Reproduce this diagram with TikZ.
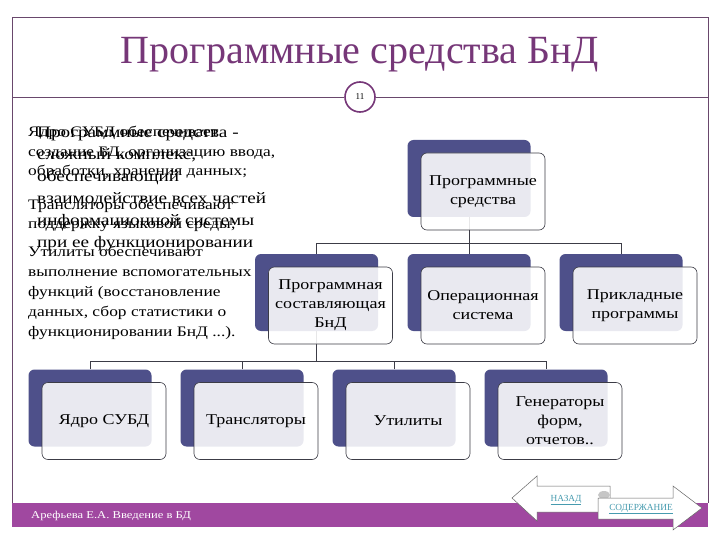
\documentclass[tikz,border=0pt]{standalone}
\usepackage{fontspec}
\setmainfont{Liberation Serif}
\newfontfamily\slidefont[FakeStretch=1.2]{Liberation Serif}
\usetikzlibrary{positioning,calc}
\definecolor{titlepurple}{RGB}{118,55,120}
\definecolor{framepurple}{RGB}{105,72,108}
\definecolor{footpurple}{RGB}{160,72,160}
\definecolor{boxdark}{RGB}{78,80,138}
\definecolor{boxline}{RGB}{60,60,70}
\definecolor{linkteal}{RGB}{70,155,175}

\tikzset{
  backbox/.style={fill=boxdark, rounded corners=6pt, minimum width=123pt,
    minimum height=77pt, inner sep=0pt},
  frontbox/.style={draw=boxline, line width=0.6pt, fill=white, fill opacity=0.88,
    text opacity=1, rounded corners=6pt, minimum width=124pt, minimum height=77pt,
    inner sep=2pt, align=center, font=\slidefont\fontsize{15}{19}\selectfont},
  link/.style={draw=boxline, line width=0.6pt},
  frameline/.style={draw=framepurple, line width=0.8pt},
  slidetext/.style={anchor=north west, align=left, inner sep=0pt},
  navarrow/.style={draw=gray!80!black, line width=0.5pt, fill=white},
}

\begin{document}
\begin{tikzpicture}[x=1pt, y=-1pt]
  \useasboundingbox[fill=white] (0,0) rectangle (720,540);
  % Slide frame and title
  \draw[frameline] (12,503) -- (12,17) -- (708,17) -- (708,503);
  \node[titlepurple, font=\fontsize{40}{42}\selectfont] (title) at (360,55)
    {Программные средства БнД};
  \node[circle, draw=titlepurple, line width=1.6pt, minimum size=30pt, inner sep=0pt,
    fill=white, font=\fontsize{9}{9}\selectfont] (pgnum) at (360,97) {11};
  \draw[frameline] (12,97) -- (pgnum.west);
  \draw[frameline] (pgnum.east) -- (708,97);
  % Footer band
  \fill[footpurple] (12,503) rectangle (708,527);
  \node[white, anchor=west, inner sep=0pt, font=\slidefont\fontsize{10.5}{12}\selectfont]
    (author) at (31,516) {Арефьева Е.А. Введение в БД};

  % Overlapping text blocks on the left
  \node[slidetext, font=\slidefont\fontsize{14.5}{19.5}\selectfont] (coretxt) at (28,126)
    {Ядро СУБД обеспечивает\\ создание БД, организацию ввода,\\ обработки, хранения данных;};
  \node[slidetext, font=\slidefont\fontsize{16}{22}\selectfont] (deftxt) at (37,127)
    {Программные средства -\\ сложный комплекс,\\ обеспечивающий\\
     взаимодействие всех частей\\ информационной системы\\ при ее функционировании};
  \node[slidetext, font=\slidefont\fontsize{14.5}{19}\selectfont] (transtxt) at (28,199)
    {Трансляторы обеспечивают\\ поддержку языковой среды;};
  \node[slidetext, font=\slidefont\fontsize{14.5}{20}\selectfont] (utiltxt) at (28,246)
    {Утилиты обеспечивают\\ выполнение вспомогательных\\ функций (восстановление\\
     данных, сбор статистики о\\ функционировании БнД ...).};

  % Back boxes
  \node[backbox] (soft-b) at (469,178.5) {};
  \node[backbox] (bnd-b) at (316.5,292.5) {};
  \node[backbox] (os-b) at (469,292.5) {};
  \node[backbox] (app-b) at (621,292.5) {};
  \node[backbox] (core-b) at (90,408) {};
  \node[backbox] (trans-b) at (242,408) {};
  \node[backbox] (util-b) at (394,408) {};
  \node[backbox] (gen-b) at (546,408) {};

  % Tree connectors
  \draw[link] (soft-b.south) -- ++(0,26) coordinate (fork1);
  \draw[link] (bnd-b.north) |- (fork1) -| (app-b.north);
  \draw[link] (fork1) -- (os-b.north);
  \draw[link] (bnd-b.south) -- ++(0,30) coordinate (fork2);
  \draw[link] (core-b.north) |- (fork2) -| (gen-b.north);
  \draw[link] (trans-b.north) -- (trans-b.north |- fork2);
  \draw[link] (util-b.north) -- (util-b.north |- fork2);

  % Front boxes
  \node[frontbox] (soft) at ($(soft-b)+(14,13)$) {Программные\\ средства};
  \node[frontbox] (bnd) at ($(bnd-b)+(14,13)$) {Программная\\ составляющая\\ БнД};
  \node[frontbox] (os) at ($(os-b)+(14,13)$) {Операционная\\ система};
  \node[frontbox] (app) at ($(app-b)+(14,13)$) {Прикладные\\ программы};
  \node[frontbox] (core) at ($(core-b)+(14,13)$) {Ядро СУБД};
  \node[frontbox] (trans) at ($(trans-b)+(14,13)$) {Трансляторы};
  \node[frontbox] (util) at ($(util-b)+(14,13)$) {Утилиты};
  \node[frontbox] (gen) at ($(gen-b)+(14,13)$) {Генераторы\\ форм,\\ отчетов..};

  % Navigation arrows
  \draw[navarrow] (512,498) -- (537,476) -- (537,486) -- (610,486) -- (610,512)
    -- (537,512) -- (537,521) -- cycle;
  \fill[gray!45] (604,495) ellipse (6 and 4);
  \draw[navarrow] (598,498) -- (673,498) -- (673,486) -- (702,508) -- (673,530)
    -- (673,519) -- (598,519) -- cycle;
  \node[linkteal, font=\fontsize{9.3}{10}\selectfont] (back) at (566,500) {\underline{НАЗАД}};
  \node[linkteal, font=\fontsize{9.3}{10}\selectfont] (contents) at (641,509) {\underline{СОДЕРЖАНИЕ}};
\end{tikzpicture}
\end{document}
